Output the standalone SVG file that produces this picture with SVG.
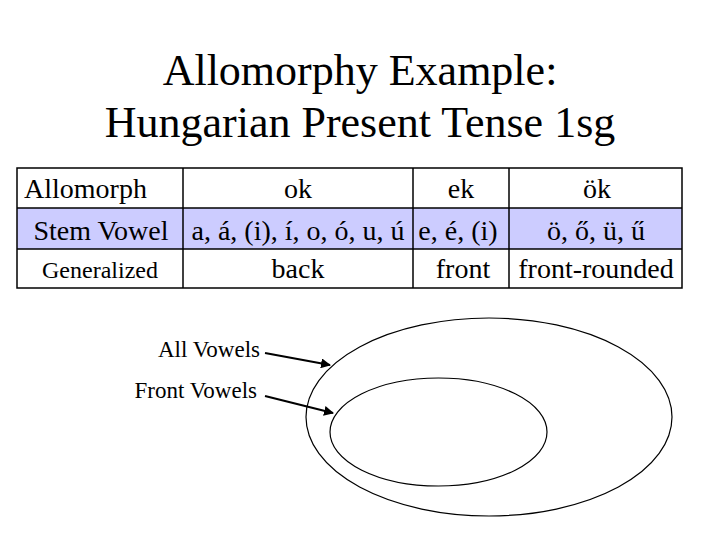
<svg xmlns="http://www.w3.org/2000/svg" width="720" height="540" viewBox="0 0 720 540">
<style>
text{font-family:"Liberation Serif","Times New Roman",serif;fill:#000}
.t{font-size:44px;text-anchor:middle}
.c{font-size:28px;text-anchor:middle}
.s{font-size:23px;text-anchor:end}
.grid{stroke:#000;stroke-width:1.5;fill:none}
.ell{fill:none;stroke:#000;stroke-width:1.2}
.arr{stroke:#000;stroke-width:2;fill:none;marker-end:url(#ah)}
</style>
<defs>
<marker id="ah" viewBox="0 0 10 10" refX="9" refY="5" markerWidth="5" markerHeight="5" orient="auto" markerUnits="strokeWidth">
<path d="M0,0 L10,5 L0,10 z" fill="#000"/>
</marker>
</defs>
<g id="title">
<text class="t" x="360" y="85">Allomorphy Example:</text>
<text class="t" x="360" y="137">Hungarian Present Tense 1sg</text>
</g>
<g id="table">
<rect x="17" y="208" width="665" height="41" fill="#ccccff"/>
<rect class="grid" x="17" y="168" width="665" height="120" stroke-width="2"/>
<line class="grid" x1="17" y1="208" x2="682" y2="208"/>
<line class="grid" x1="17" y1="249" x2="682" y2="249"/>
<line class="grid" x1="183" y1="168" x2="183" y2="288"/>
<line class="grid" x1="413" y1="168" x2="413" y2="288"/>
<line class="grid" x1="509" y1="168" x2="509" y2="288"/>
<text class="c" x="24" y="198" text-anchor="start" style="text-anchor:start">Allomorph</text>
<text class="c" x="298" y="198">ok</text>
<text class="c" x="461" y="198">ek</text>
<text class="c" x="597" y="198">ök</text>
<text class="c" x="101" y="240">Stem Vowel</text>
<text class="c" x="298" y="240">a, á, (i), í, o, ó, u, ú</text>
<text class="c" x="458" y="240">e, é, (i)</text>
<text class="c" x="596" y="240">ö, ő, ü, ű</text>
<text class="c" x="100" y="278" style="font-size:24px">Generalized</text>
<text class="c" x="298" y="278">back</text>
<text class="c" x="463" y="278">front</text>
<text class="c" x="596" y="278">front-rounded</text>
</g>
<g id="all-vowels">
<ellipse class="ell" cx="489" cy="417" rx="183" ry="99"/>
<text class="s" x="260" y="357">All Vowels</text>
</g>
<g id="front-vowels">
<ellipse class="ell" cx="438.5" cy="432" rx="108.5" ry="54"/>
<text class="s" x="257" y="398">Front Vowels</text>
</g>
<g id="connectors">
<line class="arr" x1="265" y1="353" x2="330" y2="365"/>
<line class="arr" x1="265" y1="396" x2="333" y2="413"/>
</g>
</svg>
